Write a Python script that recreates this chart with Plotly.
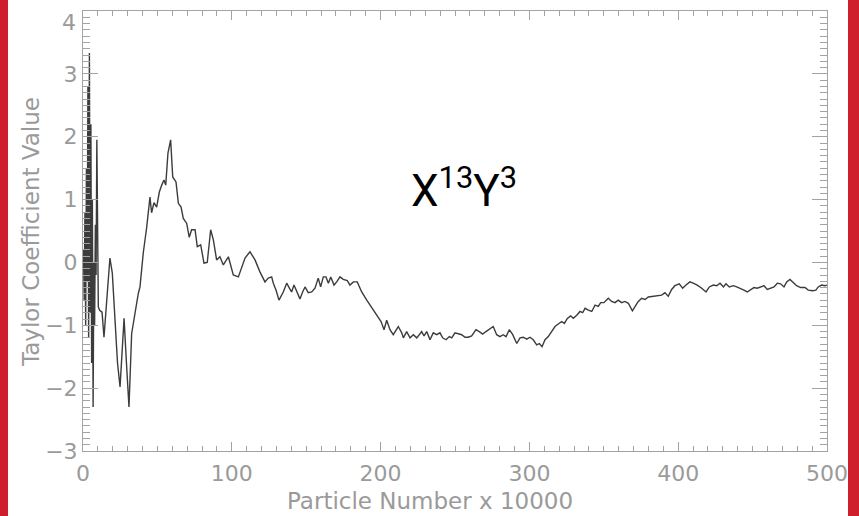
import plotly.graph_objects as go

# Particle number (x 10000)
particle_number = [
    0.3, 0.8, 1.3, 1.8, 2.3, 2.8, 3.3, 3.8, 4.3, 4.8, 5.3, 5.8, 6.3, 6.8, 7.3, 7.8, 8.3, 8.8, 9.3, 9.8,
    10.3, 11.2, 12.8, 14.1, 15.5, 16.8, 18.1, 19.7, 21.5, 23.2, 24.9, 26.3, 27.6, 29.2, 30.9, 32.7, 34.9,
    37.2, 38.3, 40.5, 42.8, 45.0, 46.1, 47.7, 49.5, 51.3, 52.9, 54.4, 55.6, 57.1, 58.9, 60.3, 62.5, 64.1,
    65.9, 67.4, 69.7, 71.4, 73.0, 75.3, 76.8, 79.1, 81.3, 83.5, 85.8, 87.6, 89.8, 92.0, 94.3, 97.7, 101.0,
    104.4, 108.9, 112.2, 115.6, 118.9, 122.3, 124.5, 126.8,
    127.9, 129.7, 131.7, 134.6, 136.9, 138.7, 140.2, 141.8, 143.6, 145.8, 147.6, 149.2, 151.4, 153.7,
    155.9, 158.1, 159.7, 161.5, 163.3, 164.9, 166.5, 168.7, 170.5, 172.7, 174.9, 177.6, 179.4, 181.7,
    184.3, 187.3, 190.7, 194.0, 197.4, 200.3, 202.3, 204.1, 206.3, 208.5, 211.9, 214.2,
    215.3, 217.5, 219.8, 222.0, 224.3, 226.0, 227.6, 229.2, 231.0, 233.2, 235.4, 237.7, 239.9, 241.7,
    244.0, 246.2, 247.8, 250.0, 252.2, 254.5, 256.7, 258.9, 261.2, 264.1, 266.3, 268.6, 270.8, 273.0,
    275.7, 278.0, 280.2, 282.4, 284.3, 286.5, 288.8, 291.5, 293.7, 295.9, 298.2, 300.4, 302.6, 304.9,
    306.7, 308.5, 310.5, 312.7, 315.0, 317.2, 319.4, 321.7, 323.5, 325.5, 327.7, 329.5, 331.8, 334.0,
    335.8, 337.4, 339.6, 341.9, 344.1, 346.3, 347.9, 350.1, 353.0, 355.3, 357.5, 359.7, 362.0, 364.2,
    366.5, 369.2, 371.6, 373.2, 375.4, 377.7, 379.9, 382.2, 384.4, 386.6, 388.9, 391.1, 393.3, 395.6,
    397.8,
    400.7, 403.0, 405.2, 407.9, 410.1, 412.8, 415.8, 418.7, 420.9, 423.6, 425.9, 428.1, 430.4, 432.1,
    434.4, 437.1, 439.3, 441.5, 444.2, 446.4, 448.7, 450.9, 453.1, 455.4, 457.6, 459.9, 462.1, 464.4,
    466.6, 468.8, 471.1, 472.9, 475.1, 477.3, 479.6, 482.3, 485.2, 487.4, 490.3, 492.5, 494.1, 496.4,
    498.7, 500.0,
]

# Taylor coefficient value for X^13 Y^3
coefficient = [
    0.2, -0.6, 0.8, -1.0, 1.5, -0.3, 2.8, -1.2, 3.33, -0.8, 2.2, -1.6, 1.0, -2.3, 0.0, -1.0, 0.6, -0.2, 1.95, -0.4,
    -0.71, -0.76, -0.79, -1.19, -0.75, -0.3, 0.07, -0.17, -0.9, -1.6, -1.98, -1.4, -0.89, -1.6, -2.30, -1.13, -0.81,
    -0.49, -0.39, 0.15, 0.56, 1.04, 0.79, 0.95, 0.88, 1.12, 1.23, 1.31, 1.23, 1.74, 1.95, 1.36, 1.28, 0.94,
    0.88, 0.70, 0.62, 0.40, 0.52, 0.52, 0.25, 0.28, -0.01, 0.0, 0.52, 0.36, 0.04, 0.09, -0.04, 0.09, -0.2,
    -0.23, 0.07, 0.17, 0.04, -0.15, -0.31, -0.25, -0.23,
    -0.33, -0.44, -0.60, -0.47, -0.33, -0.41, -0.47, -0.36, -0.47, -0.58, -0.47, -0.39, -0.48, -0.47,
    -0.41, -0.25, -0.39, -0.23, -0.23, -0.33, -0.23, -0.36, -0.31, -0.23, -0.27, -0.29, -0.36, -0.31,
    -0.31, -0.47, -0.60, -0.71, -0.84, -0.94, -1.07, -0.92, -1.07, -1.15, -1.02, -1.12,
    -1.20, -1.10, -1.20, -1.15, -1.20, -1.15, -1.10, -1.17, -1.10, -1.23, -1.12, -1.15, -1.12, -1.20,
    -1.23, -1.18, -1.20, -1.12, -1.14, -1.15, -1.19, -1.19, -1.17, -1.07, -1.10, -1.14, -1.10, -1.07,
    -1.02, -1.15, -1.18, -1.15, -1.18, -1.07, -1.15, -1.29, -1.20, -1.19, -1.22, -1.19, -1.23, -1.31,
    -1.29, -1.34, -1.23, -1.18, -1.10, -1.02, -0.98, -0.94, -0.97, -0.89, -0.85, -0.89, -0.84, -0.78,
    -0.80, -0.73, -0.76, -0.78, -0.68, -0.70, -0.64, -0.64, -0.57, -0.62, -0.64, -0.60, -0.64, -0.62,
    -0.65, -0.77, -0.68, -0.62, -0.57, -0.59, -0.55, -0.54, -0.53, -0.52, -0.52, -0.48, -0.54, -0.43,
    -0.37,
    -0.34, -0.41, -0.36, -0.31, -0.33, -0.36, -0.41, -0.47, -0.39, -0.36, -0.37, -0.33, -0.39, -0.34,
    -0.39, -0.37, -0.39, -0.41, -0.44, -0.47, -0.44, -0.40, -0.41, -0.39, -0.37, -0.43, -0.41, -0.39,
    -0.33, -0.34, -0.39, -0.31, -0.27, -0.32, -0.37, -0.40, -0.40, -0.44, -0.45, -0.44, -0.39, -0.36,
    -0.37, -0.36,
]

x_ticks = [0, 100, 200, 300, 400, 500]
y_ticks = [-3, -2, -1, 0, 1, 2, 3, 4]


def label(v):
    return str(v).replace("-", "\u2212")


AXIS_GRAY = "#a3a3a3"
TEXT_GRAY = "#9a9a9a"
RED = "#d01f2c"

fig = go.Figure()
fig.add_trace(go.Scatter(
    x=particle_number, y=coefficient, mode="lines",
    line=dict(color="#3c3c3c", width=1.4),
    showlegend=False, hoverinfo="skip",
))

tickfont = dict(family="Liberation Sans Narrow, DejaVu Sans", size=22, color=TEXT_GRAY)
titlefont = dict(family="DejaVu Sans", size=23, color=TEXT_GRAY)

# y labels: the top one ("4") is drawn just below its tick, as in the reference
y_ticktext = [label(v) if v != y_ticks[-1] else "" for v in y_ticks]

fig.update_xaxes(
    range=[0, 500], tickvals=x_ticks, ticktext=[label(v) for v in x_ticks],
    ticks="inside", ticklen=9, tickwidth=1, tickcolor=AXIS_GRAY,
    minor=dict(dtick=10, ticks="inside", ticklen=5, tickcolor=AXIS_GRAY, tickwidth=1),
    showline=True, linecolor=AXIS_GRAY, linewidth=1, mirror="allticks",
    showgrid=False, zeroline=False, tickfont=tickfont, ticklabelstandoff=3,
    ticklabeloverflow="allow",
)
fig.update_yaxes(
    range=[-3, 4], tickvals=y_ticks, ticktext=y_ticktext,
    ticks="inside", ticklen=15, tickwidth=1, tickcolor=AXIS_GRAY,
    minor=dict(dtick=0.1, ticks="inside", ticklen=7, tickcolor=AXIS_GRAY, tickwidth=1),
    showline=True, linecolor=AXIS_GRAY, linewidth=1, mirror="allticks",
    showgrid=False, zeroline=False, tickfont=tickfont, ticklabelstandoff=0,
    ticklabeloverflow="allow",
)

L, R, T, B = 83, 32, 11, 65
W, H = 859, 516
pw, ph = W - L - R, H - T - B


def px_to_paper_x(px):
    return (px - L) / pw


def px_to_paper_y(py):
    return (H - B - py) / ph


shapes = [
    dict(type="rect", xref="paper", yref="paper", layer="below",
         x0=px_to_paper_x(0), x1=px_to_paper_x(8), y0=px_to_paper_y(H), y1=px_to_paper_y(0),
         fillcolor=RED, line=dict(width=0)),
    dict(type="rect", xref="paper", yref="paper", layer="below",
         x0=px_to_paper_x(848), x1=px_to_paper_x(W), y0=px_to_paper_y(H), y1=px_to_paper_y(0),
         fillcolor=RED, line=dict(width=0)),
]

fig.update_layout(
    width=W, height=H,
    margin=dict(l=L, r=R, t=T, b=B),
    paper_bgcolor="white", plot_bgcolor="white",
    shapes=shapes,
    annotations=[
        dict(text="X<sup>13</sup>Y<sup>3</sup>", xref="paper", yref="paper",
             x=px_to_paper_x(464), y=px_to_paper_y(188), xanchor="center", yanchor="middle",
             showarrow=False, font=dict(family="Roboto", size=44, color="black")),
        dict(text=label(y_ticks[-1]), xref="paper", yref="paper",
             x=px_to_paper_x(78), y=px_to_paper_y(22), xanchor="right", yanchor="middle",
             showarrow=False, font=tickfont),
        dict(text="Particle Number x 10000", xref="paper", yref="paper",
             x=px_to_paper_x(430), y=px_to_paper_y(501), xanchor="center", yanchor="middle",
             showarrow=False, font=dict(family="DejaVu Sans", size=23, color=TEXT_GRAY)),
        dict(text="Taylor Coefficient Value", xref="paper", yref="paper", textangle=-90,
             x=px_to_paper_x(31), y=px_to_paper_y(232), xanchor="center", yanchor="middle",
             showarrow=False, font=titlefont),
    ],
)

fig.write_html("out.html")
